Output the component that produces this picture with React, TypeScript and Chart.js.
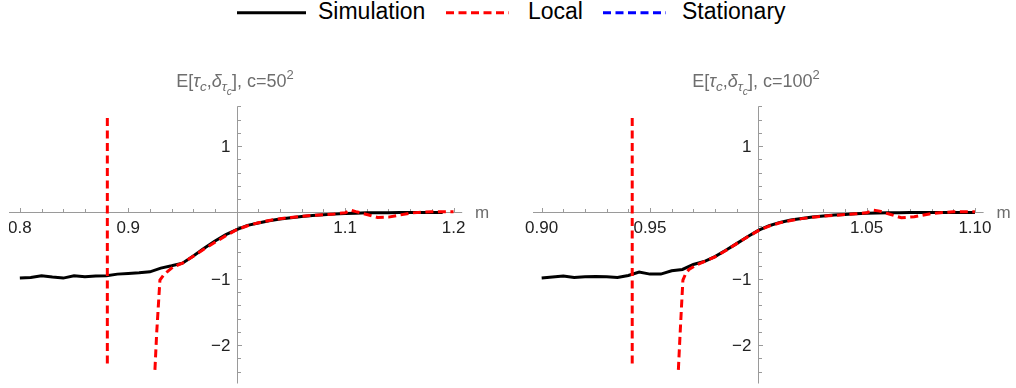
import React, { useEffect, useRef } from "react";
import { Chart, registerables } from "chart.js";

Chart.register(...registerables);

// ---------------- DATA ----------------
const LEGEND_LABELS = ["Simulation", "Local", "Stationary"];
const SERIES_COLORS = ["#000000", "#ff0000", "#0000ff"];

// Left panel (c = 50^2)
const LEFT_SIM_M = [
  0.8, 0.81, 0.82, 0.83, 0.84, 0.85, 0.86, 0.87, 0.88, 0.89,
  0.9, 0.91, 0.92, 0.93, 0.94, 0.95, 0.96, 0.97, 0.98, 0.99,
  1.0, 1.01, 1.02, 1.03, 1.04, 1.05, 1.06, 1.07, 1.08, 1.09,
  1.1, 1.11, 1.12, 1.13, 1.14, 1.15, 1.16, 1.17, 1.18, 1.19,
];
const LEFT_SIM_V = [
  -0.99, -0.98, -0.955, -0.975, -0.99, -0.955, -0.97, -0.96, -0.955, -0.93,
  -0.92, -0.91, -0.895, -0.84, -0.805, -0.765, -0.655, -0.54, -0.43, -0.335,
  -0.26, -0.195, -0.16, -0.125, -0.1, -0.08, -0.06, -0.045, -0.033, -0.025,
  -0.015, -0.01, -0.006, -0.004, -0.003, -0.002, -0.001, 0, 0, 0,
];
const LEFT_LOCAL_M = [
  0.8807, 0.8807, 0.9, 0.9246, 0.9262, 0.9277, 0.9292, 0.9323, 0.9369, 0.9415,
  0.95, 0.96, 0.97, 0.98, 0.99, 1.0, 1.01, 1.02, 1.03, 1.04,
  1.05, 1.06, 1.07, 1.08, 1.09, 1.1, 1.105, 1.11, 1.12, 1.13,
  1.14, 1.15, 1.16, 1.17, 1.18, 1.19, 1.2,
];
const LEFT_LOCAL_V = [
  1.425, -2.3, null, -2.375, -1.82, -1.42, -1.02, -0.95, -0.88, -0.82,
  -0.765, -0.66, -0.55, -0.45, -0.35, -0.26, -0.2, -0.155, -0.12, -0.095,
  -0.075, -0.058, -0.045, -0.033, -0.022, -0.005, 0.035, 0.012, -0.03, -0.075,
  -0.07, -0.04, -0.01, 0.005, 0.01, 0.012, 0.012,
];
const LEFT_STAT_M: number[] = [];
const LEFT_STAT_V: number[] = [];

// Right panel (c = 100^2)
const RIGHT_SIM_M = [
  0.9, 0.905, 0.91, 0.915, 0.92, 0.925, 0.93, 0.935, 0.94, 0.945,
  0.95, 0.955, 0.96, 0.965, 0.97, 0.975, 0.98, 0.985, 0.99, 0.995,
  1.0, 1.005, 1.01, 1.015, 1.02, 1.025, 1.03, 1.035, 1.04, 1.045,
  1.05, 1.055, 1.06, 1.065, 1.07, 1.075, 1.08, 1.085, 1.09, 1.095, 1.1,
];
const RIGHT_SIM_V = [
  -0.99, -0.975, -0.96, -0.98, -0.97, -0.965, -0.97, -0.98, -0.95, -0.9,
  -0.93, -0.93, -0.88, -0.86, -0.785, -0.74, -0.665, -0.57, -0.47, -0.365,
  -0.27, -0.2, -0.15, -0.115, -0.09, -0.07, -0.055, -0.04, -0.03, -0.02,
  -0.013, -0.008, -0.005, -0.003, -0.002, -0.001, 0, 0, 0, 0, 0,
];
const RIGHT_LOCAL_M = [
  0.9418, 0.9418, 0.95, 0.9631, 0.9638, 0.9645, 0.9652, 0.9665, 0.968, 0.9716,
  0.975, 0.98, 0.985, 0.99, 0.995, 1.0, 1.005, 1.01, 1.015, 1.02,
  1.025, 1.03, 1.035, 1.04, 1.045, 1.05, 1.053, 1.056, 1.06, 1.066,
  1.072, 1.08, 1.09, 1.1,
];
const RIGHT_LOCAL_V = [
  1.425, -2.3, null, -2.375, -1.9, -1.45, -1.02, -0.92, -0.86, -0.79,
  -0.74, -0.67, -0.575, -0.47, -0.37, -0.275, -0.205, -0.155, -0.12, -0.093,
  -0.072, -0.056, -0.043, -0.032, -0.02, -0.005, 0.035, 0.02, -0.02, -0.08,
  -0.065, -0.015, 0.01, 0.012,
];
const RIGHT_STAT_M: number[] = [];
const RIGHT_STAT_V: number[] = [];

// Ticks
const LEFT_X_MAJOR = [0.8, 0.9, 1.1, 1.2];
const LEFT_X_LABELS = ["0.8", "0.9", "1.1", "1.2"];
const RIGHT_X_MAJOR = [0.9, 0.95, 1.05, 1.1];
const RIGHT_X_LABELS = ["0.90", "0.95", "1.05", "1.10"];
const Y_MAJOR = [1, -1, -2];
const Y_LABELS = ["1", "\u22121", "\u22122"];
const TITLE_C = ["50", "100"];

// ---------------- STYLE ----------------
const FONT = "'Liberation Sans', Arial, sans-serif";
const AXIS_COLOR = "#9a9a9a";
const GRAY_TEXT = "#6e6e6e";
const TICK_TEXT = "#222222";
const DASH = [8, 4.5];

function makeRange(from: number, to: number, step: number): number[] {
  const out: number[] = [];
  const n = Math.round((to - from) / step);
  for (let i = 0; i <= n; i++) out.push(+(from + i * step).toFixed(4));
  return out;
}

function drawTitle(ctx: CanvasRenderingContext2D, cx: number, baseline: number, c: string) {
  const parts = [
    { t: "E[", size: 18, dy: 0, it: false },
    { t: "\u03c4", size: 18, dy: 0, it: true },
    { t: "c", size: 13.5, dy: 4, it: true },
    { t: ",", size: 18, dy: 0, it: false },
    { t: "\u03b4", size: 18, dy: 0, it: true },
    { t: "\u03c4", size: 13.5, dy: 4, it: true },
    { t: "c", size: 10.5, dy: 8, it: true },
    { t: "], c=" + c, size: 18, dy: 0, it: false },
    { t: "2", size: 13, dy: -8, it: false },
  ];
  const fontOf = (p: any) => `${p.it ? "italic " : ""}${p.size}px ${FONT}`;
  let total = 0;
  const widths = parts.map((p) => {
    ctx.font = fontOf(p);
    const w = ctx.measureText(p.t).width;
    total += w;
    return w;
  });
  let x = cx - total / 2;
  ctx.fillStyle = GRAY_TEXT;
  ctx.textAlign = "left";
  ctx.textBaseline = "alphabetic";
  parts.forEach((p, i) => {
    ctx.font = fontOf(p);
    ctx.fillText(p.t, x, baseline + p.dy);
    x += widths[i];
  });
}

const mathAxes = {
  id: "mathAxes",
  beforeDatasetsDraw(chart: any, _args: any, opts: any) {
    const ctx: CanvasRenderingContext2D = chart.ctx;
    const xs = chart.scales.x;
    const ys = chart.scales.y;
    const ay = Math.round(ys.getPixelForValue(0)) + 0.5;
    const ax = Math.round(xs.getPixelForValue(1)) + 0.5;
    ctx.save();
    ctx.strokeStyle = AXIS_COLOR;
    ctx.lineWidth = 1;
    ctx.beginPath();
    ctx.moveTo(xs.left, ay);
    ctx.lineTo(xs.right, ay);
    ctx.moveTo(ax, ys.top);
    ctx.lineTo(ax, ys.bottom);
    for (const v of opts.xMinor) {
      if (Math.abs(v - 1) < 1e-9) continue;
      const p = Math.round(xs.getPixelForValue(v)) + 0.5;
      const major = opts.xMajor.some((m: number) => Math.abs(m - v) < 1e-9);
      ctx.moveTo(p, ay);
      ctx.lineTo(p, ay - (major ? 4.5 : 3.5));
    }
    for (const v of opts.yMinor) {
      if (Math.abs(v) < 1e-9) continue;
      const p = Math.round(ys.getPixelForValue(v)) + 0.5;
      const major = Y_MAJOR.some((m) => Math.abs(m - v) < 1e-9);
      ctx.moveTo(ax, p);
      ctx.lineTo(ax + (major ? 4.5 : 3.5), p);
    }
    ctx.stroke();

    ctx.fillStyle = TICK_TEXT;
    ctx.font = `17px ${FONT}`;
    ctx.textBaseline = "alphabetic";
    ctx.textAlign = "center";
    opts.xMajor.forEach((v: number, i: number) => {
      ctx.fillText(opts.xLabels[i], xs.getPixelForValue(v), ay + 20.5);
    });
    ctx.textAlign = "right";
    Y_MAJOR.forEach((v, i) => {
      ctx.fillText(Y_LABELS[i], ax - 7, ys.getPixelForValue(v) + 6);
    });

    ctx.fillStyle = GRAY_TEXT;
    ctx.textAlign = "center";
    ctx.fillText("m", xs.right + 20, ay + 5);

    drawTitle(ctx, ax - 2.5, 87, opts.titleC);
    ctx.restore();
  },
};

function toPoints(ms: number[], vs: (number | null)[]) {
  return ms.map((m, i) => ({ x: m, y: vs[i] }));
}

type PanelProps = {
  left: number;
  width: number;
  padLeft: number;
  padRight: number;
  xMin: number;
  xMax: number;
  sim: [number[], number[]];
  local: [number[], (number | null)[]];
  stat: [number[], number[]];
  xMajor: number[];
  xLabels: string[];
  xMinor: number[];
  titleC: string;
};

function Panel(props: PanelProps) {
  const ref = useRef<HTMLCanvasElement>(null);
  useEffect(() => {
    const chart = new Chart(ref.current as HTMLCanvasElement, {
      type: "line",
      data: {
        datasets: [
          {
            label: LEGEND_LABELS[1],
            data: toPoints(props.local[0], props.local[1]) as any,
            borderColor: SERIES_COLORS[1],
            borderWidth: 3,
            borderDash: DASH,
            pointRadius: 0,
            fill: false,
            tension: 0,
            spanGaps: false,
            order: 0,
          },
          {
            label: LEGEND_LABELS[0],
            data: toPoints(props.sim[0], props.sim[1]) as any,
            borderColor: SERIES_COLORS[0],
            borderWidth: 3,
            pointRadius: 0,
            fill: false,
            tension: 0,
            order: 1,
          },
          {
            label: LEGEND_LABELS[2],
            data: toPoints(props.stat[0], props.stat[1]) as any,
            borderColor: SERIES_COLORS[2],
            borderWidth: 3,
            borderDash: DASH,
            pointRadius: 0,
            fill: false,
            order: 2,
          },
        ],
      },
      options: {
        animation: false,
        responsive: false,
        events: [],
        layout: {
          padding: { left: props.padLeft, right: props.padRight, top: 106.4, bottom: 4.5 },
        },
        scales: {
          x: { type: "linear", min: props.xMin, max: props.xMax, display: false },
          y: { type: "linear", min: -2.58, max: 1.6, display: false },
        },
        plugins: {
          legend: { display: false },
          title: { display: false },
          tooltip: { enabled: false },
          mathAxes: {
            xMajor: props.xMajor,
            xLabels: props.xLabels,
            xMinor: props.xMinor,
            yMinor: makeRange(-2.4, 1.6, 0.2),
            titleC: props.titleC,
          },
        } as any,
      },
      plugins: [mathAxes as any],
    });
    return () => chart.destroy();
  }, []);
  return (
    <canvas
      ref={ref}
      width={props.width}
      height={388}
      style={{ position: "absolute", left: props.left, top: 0, width: props.width, height: 388 }}
    />
  );
}

function LegendLine({ left, color, dashed }: { left: number; color: string; dashed: boolean }) {
  return (
    <svg
      width={70}
      height={10}
      style={{ position: "absolute", left, top: 8 }}
    >
      <line
        x1={0}
        y1={4.7}
        x2={dashed ? 63 : 69}
        y2={4.7}
        stroke={color}
        strokeWidth={3}
        strokeDasharray={dashed ? DASH.join(",") : undefined}
      />
    </svg>
  );
}

export default function App() {
  const textStyle = (left: number): React.CSSProperties => ({
    position: "absolute",
    left,
    top: -2,
    fontFamily: FONT,
    fontSize: 23,
    color: "#000",
    whiteSpace: "nowrap",
    lineHeight: "26px",
  });
  return (
    <div style={{ position: "absolute", left: 0, top: 0, width: 1016, height: 388, background: "#fff", overflow: "hidden" }}>
      <LegendLine left={237} color={SERIES_COLORS[0]} dashed={false} />
      <div style={textStyle(318)}>{LEGEND_LABELS[0]}</div>
      <LegendLine left={446} color={SERIES_COLORS[1]} dashed={true} />
      <div style={textStyle(528)}>{LEGEND_LABELS[1]}</div>
      <LegendLine left={603} color={SERIES_COLORS[2]} dashed={true} />
      <div style={textStyle(682)}>{LEGEND_LABELS[2]}</div>

      <Panel
        left={9}
        width={499}
        padLeft={0}
        padRight={45.8}
        xMin={0.79}
        xMax={1.208}
        sim={[LEFT_SIM_M, LEFT_SIM_V]}
        local={[LEFT_LOCAL_M, LEFT_LOCAL_V]}
        stat={[LEFT_STAT_M, LEFT_STAT_V]}
        xMajor={LEFT_X_MAJOR}
        xLabels={LEFT_X_LABELS}
        xMinor={makeRange(0.8, 1.2, 0.02)}
        titleC={TITLE_C[0]}
      />
      <Panel
        left={508}
        width={508}
        padLeft={25}
        padRight={32.4}
        xMin={0.896}
        xMax={1.104}
        sim={[RIGHT_SIM_M, RIGHT_SIM_V]}
        local={[RIGHT_LOCAL_M, RIGHT_LOCAL_V]}
        stat={[RIGHT_STAT_M, RIGHT_STAT_V]}
        xMajor={RIGHT_X_MAJOR}
        xLabels={RIGHT_X_LABELS}
        xMinor={makeRange(0.9, 1.1, 0.01)}
        titleC={TITLE_C[1]}
      />
    </div>
  );
}
